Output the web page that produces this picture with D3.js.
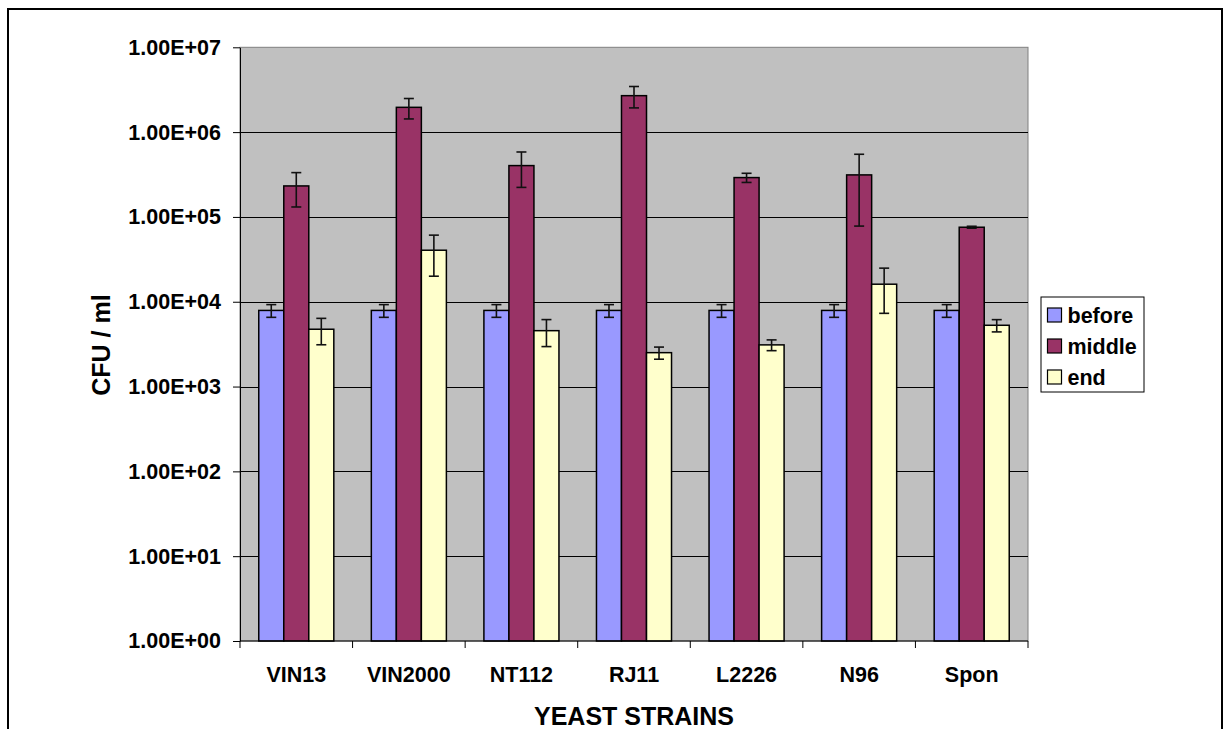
<!DOCTYPE html>
<html>
<head>
<meta charset="utf-8">
<script src="https://cdn.jsdelivr.net/npm/d3@7"></script>
<style>
  html, body { margin: 0; padding: 0; background: #fff; }
  svg { display: block; font-family: "Liberation Sans", Arial, sans-serif; font-weight: bold; }
</style>
</head>
<body>
<svg id="chart" width="1230" height="729"></svg>
<script>
// Yeast strains and sampling points
const strains = ["VIN13", "VIN2000", "NT112", "RJ11", "L2226", "N96", "Spon"];
const seriesNames = ["before", "middle", "end"];
const seriesColors = ["#9999FF", "#993366", "#FFFFCC"];

// CFU / ml means
const beforeValues = [7900, 7900, 7900, 7900, 7900, 7900, 7900];
const middleValues = [232000, 1960000, 403000, 2690000, 291000, 313000, 75600];
const endValues = [4740, 40500, 4560, 2510, 3100, 16100, 5280];

// Error (+/-) for each mean
const beforeErrors = [1350, 1350, 1350, 1350, 1350, 1350, 1350];
const middleErrors = [101000, 530000, 180000, 760000, 36000, 235000, 2000];
const endErrors = [1630, 20500, 1600, 410, 450, 8800, 870];

const tickValues = [1, 10, 100, 1e3, 1e4, 1e5, 1e6, 1e7];
const tickLabels = ["1.00E+00", "1.00E+01", "1.00E+02", "1.00E+03", "1.00E+04", "1.00E+05", "1.00E+06", "1.00E+07"];

const values = [beforeValues, middleValues, endValues];
const errors = [beforeErrors, middleErrors, endErrors];

const svg = d3.select("#chart");

// outer frame
svg.append("rect")
  .attr("x", 8).attr("y", 9).attr("width", 1214).attr("height", 800)
  .attr("fill", "none").attr("stroke", "#000").attr("stroke-width", 2);

const plot = { left: 240, top: 47.3, right: 1028, bottom: 641 };

const x0 = d3.scaleBand().domain(strains).range([plot.left, plot.right]).paddingInner(0).paddingOuter(0);
const x1 = d3.scaleBand().domain(seriesNames).range([0, x0.bandwidth()]).paddingInner(0).paddingOuter(0.75);
const y = d3.scaleLog().domain([1, 1e7]).range([plot.bottom, plot.top]);

// plot area
svg.append("rect")
  .attr("x", plot.left).attr("y", plot.top)
  .attr("width", plot.right - plot.left).attr("height", plot.bottom - plot.top)
  .attr("fill", "#C0C0C0").attr("stroke", "#808080").attr("stroke-width", 1);

// gridlines
svg.append("g").selectAll("line")
  .data(tickValues.slice(1, -1))
  .join("line")
  .attr("x1", plot.left).attr("x2", plot.right)
  .attr("y1", d => Math.round(y(d)) + 0.5).attr("y2", d => Math.round(y(d)) + 0.5)
  .attr("stroke", "#000").attr("stroke-width", 1);

// bars
const groups = svg.append("g").selectAll("g")
  .data(strains)
  .join("g")
  .attr("transform", d => `translate(${x0(d)},0)`);

groups.selectAll("rect")
  .data((d, i) => seriesNames.map((s, k) => ({ s, k, v: values[k][i] })))
  .join("rect")
  .attr("x", d => x1(d.s))
  .attr("width", x1.bandwidth())
  .attr("y", d => y(d.v))
  .attr("height", d => y(1) - y(d.v))
  .attr("fill", d => seriesColors[d.k])
  .attr("stroke", "#000").attr("stroke-width", 1.5);

// error bars
const capW = 10;
const eb = groups.selectAll("g.err")
  .data((d, i) => seriesNames.map((s, k) => ({ s, k, v: values[k][i], e: errors[k][i] })))
  .join("g").attr("class", "err")
  .attr("stroke", "#111").attr("stroke-width", 1.6);
eb.append("line")
  .attr("x1", d => x1(d.s) + x1.bandwidth() / 2).attr("x2", d => x1(d.s) + x1.bandwidth() / 2)
  .attr("y1", d => y(d.v + d.e)).attr("y2", d => y(d.v - d.e));
eb.append("line")
  .attr("x1", d => x1(d.s) + x1.bandwidth() / 2 - capW / 2).attr("x2", d => x1(d.s) + x1.bandwidth() / 2 + capW / 2)
  .attr("y1", d => y(d.v + d.e)).attr("y2", d => y(d.v + d.e));
eb.append("line")
  .attr("x1", d => x1(d.s) + x1.bandwidth() / 2 - capW / 2).attr("x2", d => x1(d.s) + x1.bandwidth() / 2 + capW / 2)
  .attr("y1", d => y(d.v - d.e)).attr("y2", d => y(d.v - d.e));

// y axis
const yAxis = d3.axisLeft(y)
  .tickValues(tickValues)
  .tickFormat((d, i) => tickLabels[i])
  .tickSize(7).tickSizeOuter(0).tickPadding(12);
const gy = svg.append("g").attr("transform", `translate(${plot.left},0)`).call(yAxis);
gy.select(".domain").attr("stroke", "#000");
gy.selectAll(".tick line").attr("stroke", "#000");
gy.selectAll("text").attr("font-size", 21.5).attr("font-weight", "bold").attr("fill", "#000")
  .attr("font-family", "Liberation Sans, Arial, sans-serif");

// x axis: ticks at category boundaries
svg.append("line")
  .attr("x1", plot.left).attr("x2", plot.right)
  .attr("y1", plot.bottom).attr("y2", plot.bottom)
  .attr("stroke", "#000").attr("stroke-width", 1);
const bounds = strains.map(d => x0(d)).concat([plot.right]);
svg.append("g").selectAll("line")
  .data(bounds)
  .join("line")
  .attr("x1", d => d).attr("x2", d => d)
  .attr("y1", plot.bottom).attr("y2", plot.bottom + 7)
  .attr("stroke", "#000");
svg.append("g").selectAll("text")
  .data(strains)
  .join("text")
  .attr("x", d => x0(d) + x0.bandwidth() / 2)
  .attr("y", 682)
  .attr("text-anchor", "middle")
  .attr("font-size", 21.5)
  .text(d => d);

// axis titles
svg.append("text")
  .attr("x", (plot.left + plot.right) / 2).attr("y", 725)
  .attr("text-anchor", "middle").attr("font-size", 25)
  .text("YEAST STRAINS");
svg.append("text")
  .attr("transform", "translate(110,345) rotate(-90)")
  .attr("text-anchor", "middle").attr("font-size", 25)
  .text("CFU / ml");

// legend
const lg = svg.append("g");
lg.append("rect")
  .attr("x", 1041).attr("y", 297).attr("width", 103).attr("height", 95)
  .attr("fill", "#fff").attr("stroke", "#000").attr("stroke-width", 1);
const items = lg.selectAll("g.item")
  .data(seriesNames)
  .join("g").attr("class", "item")
  .attr("transform", (d, i) => `translate(1047.5,${308 + i * 31})`);
items.append("rect")
  .attr("width", 14).attr("height", 14)
  .attr("fill", (d, i) => seriesColors[i])
  .attr("stroke", "#000").attr("stroke-width", 1.2);
items.append("text")
  .attr("x", 20).attr("y", 14.5)
  .attr("font-size", 21.5)
  .text(d => d);
</script>
</body>
</html>
